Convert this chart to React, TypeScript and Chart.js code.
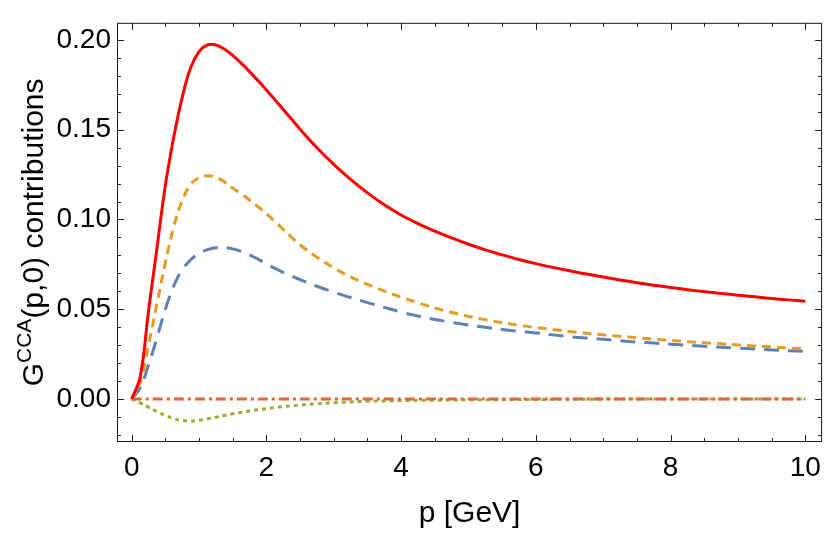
import React, { useEffect, useRef } from "react";
import { Chart, registerables } from "chart.js";

Chart.register(...registerables);

// ---- data ----
const pGrid = [0, 0.125, 0.25, 0.375, 0.5, 0.625, 0.75, 0.875, 1.0, 1.125, 1.25, 1.375, 1.5, 1.625, 1.75, 1.875, 2.0, 2.125, 2.25, 2.375, 2.5, 2.75, 3.0, 3.25, 3.5, 3.75, 4.0, 4.25, 4.5, 4.75, 5.0, 5.25, 5.5, 5.75, 6.0, 6.25, 6.5, 6.75, 7.0, 7.25, 7.5, 7.75, 8.0, 8.25, 8.5, 8.75, 9.0, 9.25, 9.5, 9.75, 10];
const totalRed = [0, 0.012, 0.049, 0.084, 0.119, 0.146, 0.168, 0.1845, 0.1935, 0.1973, 0.1972, 0.195, 0.1914, 0.1871, 0.1824, 0.1774, 0.1722, 0.1668, 0.1613, 0.1558, 0.1503, 0.14, 0.1307, 0.1223, 0.1148, 0.1082, 0.1025, 0.0977, 0.0935, 0.0897, 0.0862, 0.0831, 0.0803, 0.0777, 0.0754, 0.0733, 0.0714, 0.0696, 0.0679, 0.0663, 0.0648, 0.0634, 0.0621, 0.0609, 0.0598, 0.0588, 0.0578, 0.0569, 0.056, 0.0552, 0.0544];
const orangeDashed = [0, 0.009, 0.030, 0.053, 0.076, 0.096, 0.1105, 0.1195, 0.1233, 0.1244, 0.1236, 0.121, 0.1175, 0.1143, 0.1108, 0.1071, 0.1032, 0.0989, 0.0945, 0.0901, 0.0858, 0.079, 0.073, 0.068, 0.0638, 0.0601, 0.0567, 0.0536, 0.0507, 0.0482, 0.046, 0.0442, 0.0425, 0.0411, 0.0398, 0.0387, 0.0376, 0.0366, 0.0357, 0.0349, 0.0341, 0.0333, 0.0326, 0.0319, 0.0313, 0.0307, 0.0301, 0.0295, 0.029, 0.0284, 0.0279];
const blueLongDashed = [0, 0.006, 0.019, 0.034, 0.050, 0.063, 0.072, 0.0775, 0.0812, 0.0832, 0.0842, 0.0843, 0.0836, 0.0822, 0.0803, 0.0779, 0.0752, 0.0728, 0.0705, 0.0684, 0.0665, 0.0628, 0.0595, 0.0565, 0.0537, 0.051, 0.0484, 0.0462, 0.0443, 0.0427, 0.0412, 0.0399, 0.0387, 0.0377, 0.0368, 0.0357, 0.0347, 0.0339, 0.0332, 0.0324, 0.0317, 0.0311, 0.0305, 0.0299, 0.0293, 0.0288, 0.0283, 0.0278, 0.0273, 0.0269, 0.0265];
const greenDotted = [0, -0.0022, -0.0046, -0.007, -0.0092, -0.011, -0.012, -0.0123, -0.0119, -0.0111, -0.0102, -0.0092, -0.0083, -0.0075, -0.0067, -0.006, -0.0054, -0.0048, -0.0043, -0.0038, -0.0034, -0.0027, -0.0021, -0.0017, -0.0013, -0.0011, -0.0009, -0.0008, -0.0007, -0.0006, -0.0005, -0.0004, -0.0004, -0.0003, -0.0003, -0.0002, -0.0002, -0.0002, -0.0001, -0.0001, -0.0001, -0.0001, -0.0001, 0, 0, 0, 0, 0, 0, 0, 0];
const pZero = [0, 10];
const redDashDot = [0, 0];

const xTickValues = [0, 2, 4, 6, 8, 10];
const yTickValues = [0, 0.05, 0.1, 0.15, 0.2];

const FONT = "'Liberation Sans', Arial, Helvetica, sans-serif";

const toPts = (xs: number[], ys: number[]) => xs.map((x, i) => ({ x, y: ys[i] }));

const framePlugin = {
  id: "frameTicks",
  afterDatasetsDraw(chart: any) {
    const { ctx, chartArea: a, scales } = chart;
    const xs = scales.x;
    const ys = scales.y;
    ctx.save();
    ctx.strokeStyle = "#1a1a1a";
    ctx.lineWidth = 1;
    ctx.strokeRect(a.left + 0.5, a.top + 0.5, a.right - a.left - 1, a.bottom - a.top - 1);
    ctx.beginPath();
    for (let v = 0; v <= 10.0001; v += 0.5) {
      const major = Math.abs(v / 2 - Math.round(v / 2)) < 1e-6;
      const len = major ? 7 : 4;
      const px = Math.round(xs.getPixelForValue(v)) + 0.5;
      ctx.moveTo(px, a.bottom);
      ctx.lineTo(px, a.bottom - len);
      ctx.moveTo(px, a.top);
      ctx.lineTo(px, a.top + len);
    }
    for (let k = -2; k <= 20; k++) {
      const v = k / 100;
      const major = k % 5 === 0;
      const len = major ? 7 : 4;
      const py = Math.round(ys.getPixelForValue(v)) + 0.5;
      ctx.moveTo(a.left, py);
      ctx.lineTo(a.left + len, py);
      ctx.moveTo(a.right, py);
      ctx.lineTo(a.right - len, py);
    }
    ctx.stroke();

    ctx.fillStyle = "#000";
    ctx.font = `30px ${FONT}`;
    ctx.textAlign = "center";
    ctx.textBaseline = "alphabetic";
    ctx.fillText("p [GeV]", (a.left + a.right) / 2, 522);

    const big = `30px ${FONT}`;
    const small = `21px ${FONT}`;
    const p1 = "G";
    const p2 = "CCA";
    const p3 = "(p,0) contributions";
    ctx.font = big;
    const w1 = ctx.measureText(p1).width;
    const w3 = ctx.measureText(p3).width;
    ctx.font = small;
    const w2 = ctx.measureText(p2).width;
    const total = w1 + w2 + w3;
    ctx.translate(43, (a.top + a.bottom) / 2);
    ctx.rotate(-Math.PI / 2);
    ctx.textAlign = "left";
    let x0 = -total / 2;
    ctx.font = big;
    ctx.fillText(p1, x0, 0);
    x0 += w1;
    ctx.font = small;
    ctx.fillText(p2, x0, -12);
    x0 += w2;
    ctx.font = big;
    ctx.fillText(p3, x0, 0);
    ctx.restore();
  },
};

export default function App() {
  const ref = useRef<HTMLCanvasElement | null>(null);
  useEffect(() => {
    if (!ref.current) return;
    const common = {
      fill: false,
      pointRadius: 0,
      borderWidth: 3,
      tension: 0.4,
      borderCapStyle: "butt" as const,
    };
    const chart = new Chart(ref.current, {
      type: "line",
      data: {
        datasets: [
          { ...common, label: "total", data: toPts(pGrid, totalRed), borderColor: "#ff0000", order: 0 },
          { ...common, label: "orange", data: toPts(pGrid, orangeDashed), borderColor: "#e19c24", borderDash: [9, 6], order: 1 },
          { ...common, label: "blue", data: toPts(pGrid, blueLongDashed), borderColor: "#5e81b5", borderDash: [15, 9], order: 2 },
          { ...common, label: "dashdot", data: toPts(pZero, redDashDot), borderColor: "#eb6235", borderDash: [10, 4, 3, 4], order: 3 },
          { ...common, label: "green", data: toPts(pGrid, greenDotted), borderColor: "#8fb032", borderDash: [4, 4], order: 4 },
        ],
      },
      options: {
        animation: false,
        responsive: false,
        layout: { padding: { top: 5, right: 7, left: 0, bottom: 0 } },
        plugins: { legend: { display: false }, tooltip: { enabled: false } },
        scales: {
          x: {
            type: "linear",
            min: -0.218,
            max: 10.25,
            grid: { display: false, drawTicks: false },
            border: { display: false },
            afterBuildTicks: (s: any) => {
              s.ticks = xTickValues.map((v) => ({ value: v }));
            },
            afterFit: (s: any) => {
              s.height = 93;
            },
            ticks: {
              padding: 9,
              color: "#000",
              font: { family: FONT, size: 28 },
              maxRotation: 0,
              callback: (v: any) => String(v),
            },
          },
          y: {
            type: "linear",
            min: -0.024,
            max: 0.2096,
            grid: { display: false, drawTicks: false },
            border: { display: false },
            afterBuildTicks: (s: any) => {
              s.ticks = yTickValues.map((v) => ({ value: v }));
            },
            afterFit: (s: any) => {
              s.width = 117;
            },
            ticks: {
              padding: 6,
              color: "#000",
              font: { family: FONT, size: 28 },
              callback: (v: any) => Number(v).toFixed(2),
            },
          },
        },
      },
      plugins: [framePlugin],
    });
    return () => chart.destroy();
  }, []);
  return (
    <div style={{ position: "absolute", left: 0, top: 0, width: 830, height: 535, background: "#fff" }}>
      <canvas ref={ref} width={830} height={535} style={{ display: "block" }} />
    </div>
  );
}
